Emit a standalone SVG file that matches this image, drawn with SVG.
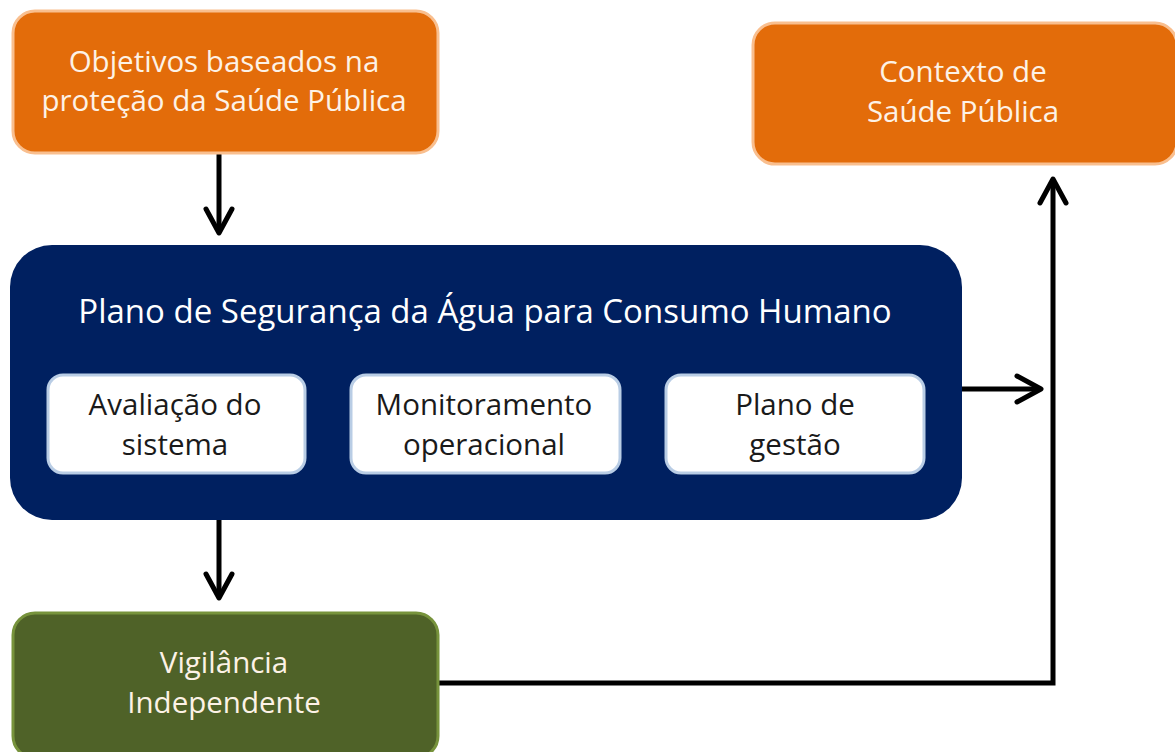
<svg xmlns="http://www.w3.org/2000/svg" width="1175" height="752" viewBox="0 0 1175 752">
<style>
.lbl{font-family:"Open Sans","Noto Sans","Liberation Sans",sans-serif;font-size:29.5px;text-anchor:middle}
.w{fill:#fdf2e6}
.d{fill:#1a1a1a}
.orange{fill:#e36c0a;stroke:#f9bf8f;stroke-width:3}
.inner{fill:#ffffff;stroke:#b9cde5;stroke-width:3}
.conn{fill:none;stroke:#000;stroke-width:5;stroke-linejoin:miter}
</style>
<defs>
<marker id="arr" markerUnits="userSpaceOnUse" markerWidth="40" markerHeight="40" refX="0" refY="0" viewBox="-30 -20 40 40" orient="auto" overflow="visible">
<path d="M -24 -13 L 0 0 L -24 13" fill="none" stroke="#000" stroke-width="5" stroke-linecap="round" stroke-linejoin="round"/>
</marker>
</defs>
<rect width="1175" height="752" fill="#ffffff"/>
<g id="connectors">
<path class="conn" d="M219 153 V233" marker-end="url(#arr)"/>
<path class="conn" d="M219 520 V598" marker-end="url(#arr)"/>
<path class="conn" d="M961 389 H1041" marker-end="url(#arr)"/>
<path class="conn" d="M439 683 H1053 V179" marker-end="url(#arr)"/>
</g>
<g id="objetivos">
<rect class="orange" x="13" y="11" width="425" height="142" rx="22"/>
<text class="lbl w" x="224" y="72">Objetivos baseados na</text>
<text class="lbl w" x="224" y="111">proteção da Saúde Pública</text>
</g>
<g id="contexto">
<rect class="orange" x="753" y="23" width="424" height="141" rx="22"/>
<text class="lbl w" x="963" y="82">Contexto de</text>
<text class="lbl w" x="963" y="122">Saúde Pública</text>
</g>
<g id="psa">
<rect x="10" y="245" width="952" height="275" rx="42" fill="#002060"/>
<text class="lbl" x="485" y="323" style="font-size:33px;fill:#ffffff">Plano de Segurança da Água para Consumo Humano</text>
</g>
<g id="avaliacao">
<rect class="inner" x="48" y="375" width="257" height="98" rx="15"/>
<text class="lbl d" x="175" y="415">Avaliação do</text>
<text class="lbl d" x="175" y="455">sistema</text>
</g>
<g id="monitoramento">
<rect class="inner" x="351" y="375" width="269" height="98" rx="15"/>
<text class="lbl d" x="484" y="415">Monitoramento</text>
<text class="lbl d" x="484" y="455">operacional</text>
</g>
<g id="gestao">
<rect class="inner" x="666" y="375" width="258" height="98" rx="15"/>
<text class="lbl d" x="795" y="415">Plano de</text>
<text class="lbl d" x="795" y="455">gestão</text>
</g>
<g id="vigilancia">
<rect x="13" y="613" width="425" height="145" rx="22" fill="#4f6228" stroke="#77933c" stroke-width="3"/>
<text class="lbl w" x="224" y="673">Vigilância</text>
<text class="lbl w" x="224" y="713">Independente</text>
</g>
</svg>
